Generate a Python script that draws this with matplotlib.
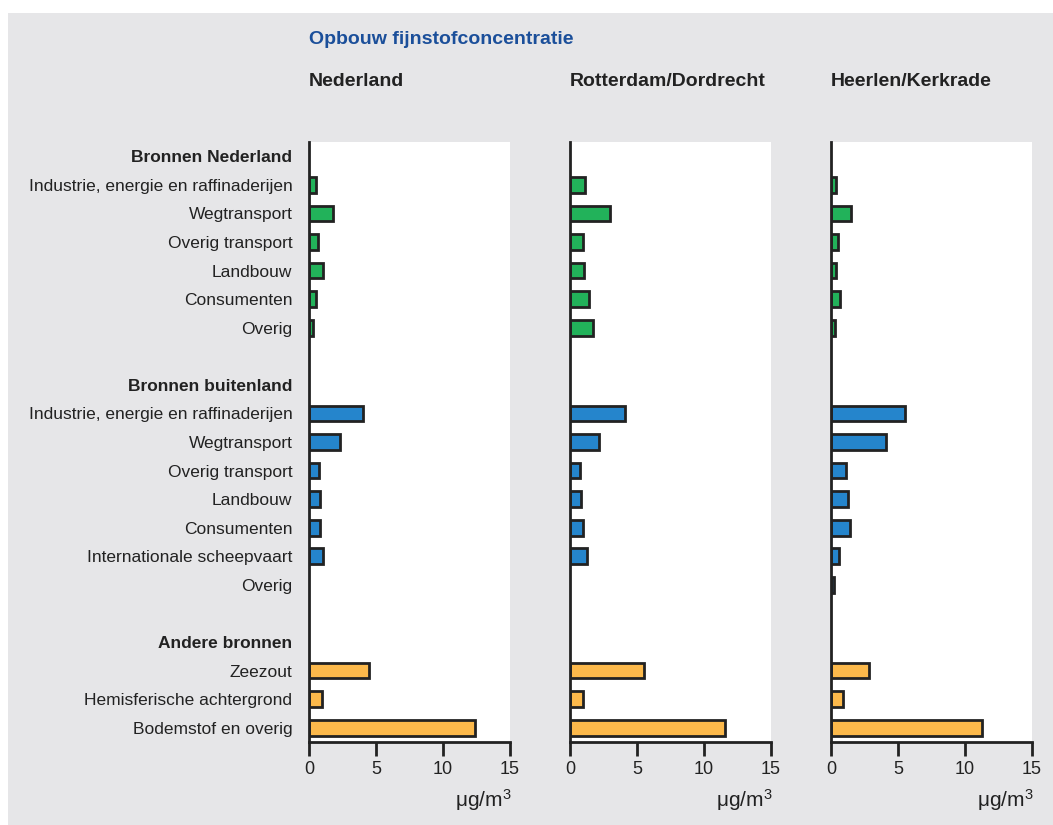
import matplotlib
matplotlib.use('Agg')
import matplotlib.pyplot as plt
from matplotlib.patches import Rectangle

plt.rcParams['font.family'] = ['Liberation Sans Narrow', 'Liberation Sans', 'DejaVu Sans']

# Rijen (kopjes hebben geen waarde)
labels = ['Bronnen Nederland',
          'Industrie, energie en raffinaderijen', 'Wegtransport', 'Overig transport',
          'Landbouw', 'Consumenten', 'Overig',
          '',
          'Bronnen buitenland',
          'Industrie, energie en raffinaderijen', 'Wegtransport', 'Overig transport',
          'Landbouw', 'Consumenten', 'Internationale scheepvaart', 'Overig',
          '',
          'Andere bronnen',
          'Zeezout', 'Hemisferische achtergrond', 'Bodemstof en overig']
headers = ['Bronnen Nederland', 'Bronnen buitenland', 'Andere bronnen']

regions = ['Nederland', 'Rotterdam/Dordrecht', 'Heerlen/Kerkrade']

# waarden in ug/m3
nl_binnen = [0.5, 1.8, 0.65, 1.05, 0.5, 0.3]
rd_binnen = [1.15, 3.0, 0.95, 1.05, 1.4, 1.75]
hk_binnen = [0.4, 1.5, 0.55, 0.4, 0.7, 0.3]

nl_buiten = [4.0, 2.3, 0.75, 0.85, 0.85, 1.05, 0.0]
rd_buiten = [4.1, 2.15, 0.75, 0.85, 0.95, 1.3, 0.0]
hk_buiten = [5.5, 4.1, 1.15, 1.3, 1.4, 0.6, 0.2]

nl_overig = [4.5, 0.95, 12.4]
rd_overig = [5.5, 0.95, 11.55]
hk_overig = [2.8, 0.9, 11.25]

data = [(nl_binnen, nl_buiten, nl_overig),
        (rd_binnen, rd_buiten, rd_overig),
        (hk_binnen, hk_buiten, hk_overig)]

green = '#22b25a'
blue = '#2585cc'
yellow = '#fcb94b'
bg = '#e6e6e8'
ink = '#222222'

fig = plt.figure(figsize=(10.53, 8.25), dpi=100)
W, H = 1053, 825
fig.patches.append(Rectangle((8 / W, 0), 1 - 8 / W, 1 - 13 / H,
                             transform=fig.transFigure, facecolor=bg,
                             edgecolor='none', zorder=-10))

fig.text(309 / W, 1 - 40 / H, 'Opbouw fijnstofconcentratie', color='#1b4f9a',
         fontsize=14, fontweight='bold', va='center', ha='left')

lefts = [309, 570, 831]
for i, (left, region) in enumerate(zip(lefts, regions)):
    ax = fig.add_axes([left / W, 1 - 742 / H, 201 / W, 600 / H])
    binnen, buiten, overig = data[i]
    y1 = list(range(1, 7))
    y2 = list(range(9, 16))
    y3 = list(range(18, 21))
    kw = dict(height=0.55, edgecolor=ink, linewidth=2)
    ax.barh(y1, binnen, color=green, **kw)
    ax.barh([y for y, v in zip(y2, buiten) if v > 0],
            [v for v in buiten if v > 0], color=blue, **kw)
    ax.barh(y3, overig, color=yellow, **kw)

    ax.set_xlim(0, 15)
    ax.set_ylim(20.5, -0.5)
    ax.set_xticks([0, 5, 10, 15])
    ax.tick_params(axis='x', length=10, width=2, labelsize=13, pad=4,
                   color=ink, labelcolor=ink)
    for s in ['top', 'right']:
        ax.spines[s].set_visible(False)
    for s in ['left', 'bottom']:
        ax.spines[s].set_linewidth(2)
        ax.spines[s].set_color(ink)
    ax.set_facecolor('white')

    if i == 0:
        ax.set_yticks(range(len(labels)))
        ax.set_yticklabels(labels)
        ax.tick_params(axis='y', length=0, labelsize=12.5, pad=12, labelcolor=ink)
        for t in ax.get_yticklabels():
            if t.get_text() in headers:
                t.set_fontweight('bold')
    else:
        ax.set_yticks([])

    fig.text(left / W, 1 - 81 / H, region, fontsize=14, fontweight='bold',
             va='center', ha='left', color=ink)
    fig.text((left + 202) / W, 1 - 800 / H, r'$\mathregular{\mu g/m^3}$', fontsize=15,
             va='center', ha='right', color=ink)

fig.savefig('out.png', dpi=100, facecolor='white')
